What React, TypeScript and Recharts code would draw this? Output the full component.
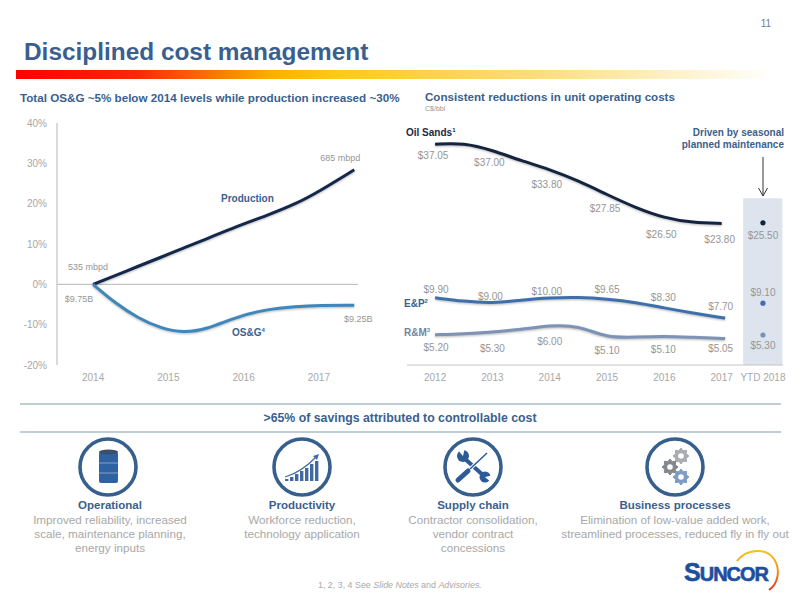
import type { CSSProperties, ReactNode } from "react";
import {
  ComposedChart,
  LabelList,
  Line,
  ReferenceArea,
  ReferenceLine,
  Scatter,
  XAxis,
  YAxis,
} from "recharts";

const FONT = '"Liberation Sans", Arial, sans-serif';
const BLUE = "#3a5f8f";
const GREY = "#a8a8a8";
const LABEL_GREY = "#969696";

// left chart: indexed change since 2014
const changeYears = [2014, 2014.3, 2014.6, 2014.9, 2015.2, 2015.5, 2015.9, 2016.3, 2016.7, 2017, 2017.47];
const production = [0, 2.2, 4.5, 6.7, 9, 11.2, 14.3, 17, 20, 23, 28.4];
const osg = [0, -4.75, -8.4, -10.9, -12, -11.2, -8.1, -6.2, -5.5, -5.2, -5.2];
const changeTicks = [2014, 2015, 2016, 2017];
const percentTicks = [40, 30, 20, 10, 0, -10, -20];

const changeRows = changeYears.map((x, i) => ({ x, production: production[i], osg: osg[i] }));

// right chart: the drawn curves sit slightly apart from their printed values
const unitYears = [2012, 2012.5, 2013, 2013.5, 2014, 2014.5, 2015, 2015.5, 2016, 2016.5, 2017, 2017.06];
const oilSands = [36.8, 37.05, 35.8, 34.05, 32.6, 30.7, 28.4, 26.2, 24.5, 23.7, 23.6, null];
const eAndP = [11.2, 10.6, 10.3, 10.8, 11.2, 11.3, 11, 10.45, 9.5, 8.65, 7.9, 7.8];
const rAndM = [5.05, 5.2, 5.5, 5.9, 6.6, 6.6, 4.5, 4.65, 4.8, 4.6, 4.45, 4.4];
const unitTicks = [2012, 2013, 2014, 2015, 2016, 2017];

const oilLabels = ["$37.05", "$37.00", "$33.80", "$27.85", "$26.50", "$23.80"];
const epLabels = ["$9.90", "$9.00", "$10.00", "$9.65", "$8.30", "$7.70"];
const rmLabels = ["$5.20", "$5.30", "$6.00", "$5.10", "$5.10", "$5.05"];

const YTD_X = 2017.72;
const ytdOil = [{ x: YTD_X, y: 23.7 }];
const ytdEp = [{ x: YTD_X, y: 10.3 }];
const ytdRm = [{ x: YTD_X, y: 5 }];

const unitRows = unitYears.map((x, i) => ({ x, oil: oilSands[i], ep: eAndP[i], rm: rAndM[i] }));

const oilOffsets = [[-2, 11], [-3, 12], [-3, 15], [-2, 14], [-3, 16], [-2, 16]];
const epOffsets = [[1, -8], [-2, -7], [-3, -6], [0, -10], [-1, -11], [-1, -11]];
const rmOffsets = [[1, 13], [0, 16], [0, 16], [0, 12], [-1, 13], [-1, 10]];

function valueText(x: number, y: number, text: string, size = 10) {
  return (
    <text x={x} y={y} textAnchor="middle" dominantBaseline="central" fontSize={size} fill={LABEL_GREY} fontFamily={FONT}>
      {text}
    </text>
  );
}

// labels every whole year, which is every second row of the table
const yearLabel = (texts: string[], offsets: number[][]) => (p: any) => {
  if (p.index % 2 !== 0 || !texts[p.index / 2]) return <g />;
  const [dx, dy] = offsets[p.index / 2];
  return valueText(p.x + dx, p.y + dy, texts[p.index / 2]);
};

// first and last point only
const endLabel = (first: string, last: string, firstAt: number[], lastAt: number[]) => (p: any) => {
  if (p.index === 0) return valueText(p.x + firstAt[0], p.y + firstAt[1], first, 9);
  if (p.index === changeYears.length - 1) return valueText(p.x + lastAt[0], p.y + lastAt[1], last, 9);
  return <g />;
};

const ytdLabel = (text: string, dy: number) => (p: any) =>
  valueText(p.x + (p.width ?? 0) / 2, p.y + (p.height ?? 0) / 2 + dy, text);

function Txt({ x, y, w, align = "left", style, children }: { x: number; y: number; w?: number; align?: CSSProperties["textAlign"]; style?: CSSProperties; children: ReactNode }) {
  return (
    <div style={{ position: "absolute", left: x, top: y, width: w, textAlign: align, whiteSpace: "nowrap", fontFamily: FONT, ...style }}>
      {children}
    </div>
  );
}

const tickStyle = { fontSize: 10, fill: GREY, fontFamily: FONT };

function ChangeChart() {
  return (
    <ComposedChart width={400} height={280} data={changeRows} margin={{ top: 13, right: 42, bottom: 0, left: 17 }}>
      <XAxis
        type="number"
        dataKey="x"
        domain={[2013.52, 2017.52]}
        ticks={changeTicks}
        interval={0}
        axisLine={false}
        tickLine={false}
        tick={tickStyle}
        height={25}
        tickMargin={3}
      />
      <YAxis
        type="number"
        domain={[-20, 40]}
        ticks={percentTicks}
        interval={0}
        width={40}
        tickFormatter={(v) => `${v}%`}
        tick={tickStyle}
        axisLine={{ stroke: "#b5b5b5" }}
        tickLine={false}
        tickSize={0}
        tickMargin={10}
      />
      <ReferenceLine y={0} stroke="#b5b5b5" />
      <Line
        dataKey="production"
        type="basis"
        stroke="#14284b"
        strokeWidth={3}
        dot={false}
        isAnimationActive={false}
        label={endLabel("535 mbpd", "685 mbpd", [-5, -17], [-14, -12])}
      />
      <Line
        dataKey="osg"
        type="basis"
        stroke="#3d87bd"
        strokeWidth={3}
        dot={false}
        isAnimationActive={false}
        label={endLabel("$9.75B", "$9.25B", [-14, 15], [4, 14])}
      />
    </ComposedChart>
  );
}

function UnitCostChart() {
  return (
    <ComposedChart width={400} height={280} data={unitRows} margin={{ top: 15, right: 17, bottom: 0, left: 7 }}>
      <XAxis
        type="number"
        dataKey="x"
        domain={[2011.51, 2018.07]}
        ticks={[...unitTicks, YTD_X]}
        interval={0}
        tickFormatter={(v) => (v === YTD_X ? "YTD 2018" : String(v))}
        axisLine={{ stroke: "#c4c4c4" }}
        tickLine={false}
        tick={tickStyle}
        height={25}
        tickMargin={3}
      />
      <YAxis type="number" domain={[0, 40]} hide />
      <ReferenceArea x1={2017.375} x2={2018.06} y1={0} y2={27.8} fill="#dde4ee" fillOpacity={1} stroke="none" />
      <Line dataKey="oil" type="basis" stroke="#14243f" strokeWidth={3} dot={false} isAnimationActive={false} label={yearLabel(oilLabels, oilOffsets)} />
      <Line dataKey="ep" type="basis" stroke="#3e6fad" strokeWidth={3} dot={false} isAnimationActive={false} label={yearLabel(epLabels, epOffsets)} />
      <Line dataKey="rm" type="basis" stroke="#7d93b5" strokeWidth={3} dot={false} isAnimationActive={false} label={yearLabel(rmLabels, rmOffsets)} />
      <Scatter data={ytdOil} dataKey="y" fill="#14243f" isAnimationActive={false} shape={<Dot />}>
        <LabelList dataKey="y" content={ytdLabel("$25.50", 13)} />
      </Scatter>
      <Scatter data={ytdEp} dataKey="y" fill="#3f6fb0" isAnimationActive={false} shape={<Dot />}>
        <LabelList dataKey="y" content={ytdLabel("$9.10", -11)} />
      </Scatter>
      <Scatter data={ytdRm} dataKey="y" fill="#7c93b8" isAnimationActive={false} shape={<Dot />}>
        <LabelList dataKey="y" content={ytdLabel("$5.30", 10)} />
      </Scatter>
    </ComposedChart>
  );
}

function Dot(p: any) {
  return <circle cx={p.cx} cy={p.cy} r={2.6} fill={p.fill} />;
}

function gearPath(cx: number, cy: number, r: number) {
  const pts: string[] = [];
  for (let i = 0; i < 16; i++) {
    const a = (i * Math.PI) / 8;
    const rad = i % 2 === 0 ? r : r * 0.72;
    pts.push(`${(cx + rad * Math.cos(a)).toFixed(1)},${(cy + rad * Math.sin(a)).toFixed(1)}`);
  }
  return pts.join(" ");
}

function Gear({ cx, cy, r, fill }: { cx: number; cy: number; r: number; fill: string }) {
  return (
    <g>
      <polygon points={gearPath(cx, cy, r)} fill={fill} stroke={fill} strokeWidth={1} strokeLinejoin="round" />
      <circle cx={cx} cy={cy} r={r * 0.35} fill="#fff" />
    </g>
  );
}

function Decor() {
  return (
    <svg width={800} height={600} style={{ position: "absolute", left: 0, top: 0 }}>
      <defs>
        <linearGradient id="rule" x1="0" x2="1" y1="0" y2="0">
          <stop offset="0" stopColor="#ff0000" />
          <stop offset="0.16" stopColor="#f52a05" />
          <stop offset="0.34" stopColor="#ffb000" />
          <stop offset="0.42" stopColor="#ffc81a" />
          <stop offset="0.68" stopColor="#ffdc78" />
          <stop offset="1" stopColor="#ffffff" />
        </linearGradient>
        <linearGradient id="arc" x1="0" x2="0" y1="0" y2="1">
          <stop offset="0" stopColor="#f7c21b" />
          <stop offset="0.55" stopColor="#f08a1d" />
          <stop offset="1" stopColor="#d8341f" />
        </linearGradient>
      </defs>
      <rect x={16} y={70} width={757} height={9} fill="url(#rule)" />

      <line x1={763} y1={157} x2={763} y2={196} stroke="#333" strokeWidth={1} />
      <polyline points="758.5,188 763,196 767.5,188" fill="none" stroke="#333" strokeWidth={1} />

      <line x1={20} y1={404} x2={781} y2={404} stroke="#7d9ea9" strokeWidth={1.2} />
      <line x1={20} y1={432} x2={781} y2={432} stroke="#7d9ea9" strokeWidth={1.2} />

      {[108, 302, 473, 675].map((cx) => (
        <circle key={cx} cx={cx} cy={467} r={28} fill="#fff" stroke="#375f8e" strokeWidth={3.6} />
      ))}

      {/* barrel */}
      <rect x={99} y={452} width={19} height={31} rx={2} fill="#2f62a3" />
      <ellipse cx={108.5} cy={452} rx={9.5} ry={2.5} fill="#3c4f6b" />
      <line x1={99} y1={463} x2={118} y2={463} stroke="#9db4d2" strokeWidth={0.8} />
      <line x1={99} y1={473} x2={118} y2={473} stroke="#9db4d2" strokeWidth={0.8} />

      {/* growth bars */}
      {[[286, 2], [291, 4], [296, 7], [301, 10], [306, 13], [311, 17], [316, 20]].map(([x, h]) => (
        <rect key={x} x={x - 1} y={481 - h} width={3.4} height={h} fill="#3f6aa3" />
      ))}
      <path d="M285 477 Q302 472 317 456" fill="none" stroke="#3f6aa3" strokeWidth={1.2} />
      <polygon points="319,454 313,456 317,460" fill="#3f6aa3" />

      {/* wrench */}
      <line x1={464} y1={458} x2={484} y2={476} stroke="#2c5b97" strokeWidth={4} />
      <circle cx={463} cy={456} r={6} fill="#2c5b97" />
      <polygon points="463,456 456,448 465,447" fill="#fff" />
      <circle cx={485} cy={477} r={5.5} fill="#2c5b97" />
      <polygon points="485,477 493,484 494,475" fill="#fff" />
      {/* screwdriver */}
      <line x1={470} y1={469} x2={487} y2={453} stroke="#fff" strokeWidth={3.4} />
      <line x1={470} y1={469} x2={487} y2={453} stroke="#2c5b97" strokeWidth={1.6} />
      <line x1={458} y1={480} x2={468} y2={471} stroke="#2c5b97" strokeWidth={5} strokeLinecap="round" />

      {/* gears */}
      <Gear cx={681} cy={456} r={8} fill="#a9acb0" />
      <Gear cx={670} cy={467} r={8} fill="#84888e" />
      <Gear cx={681} cy={477} r={8} fill="#7f9cc4" />

      {/* logo arc */}
      <path d="M737 561 C746 549 766 547 774 559 C781 570 778 584 769 590" fill="none" stroke="url(#arc)" strokeWidth={2} />
    </svg>
  );
}

const captions = [
  { cx: 110, head: "Operational", body: ["Improved reliability, increased", "scale, maintenance planning,", "energy inputs"] },
  { cx: 302, head: "Productivity", body: ["Workforce reduction,", "technology application"] },
  { cx: 473, head: "Supply chain", body: ["Contractor consolidation,", "vendor contract", "concessions"] },
  { cx: 675, head: "Business processes", body: ["Elimination of low-value added work,", "streamlined processes, reduced fly in fly out"] },
];

const sup: CSSProperties = { fontSize: 6, verticalAlign: "super", lineHeight: 0 };
const seriesName: CSSProperties = { fontSize: 10, fontWeight: 700, color: BLUE };
const logoInk: CSSProperties = { color: "#1c4f9c", fontWeight: 700, WebkitTextStroke: "0.6px #1c4f9c" };

export default function App() {
  return (
    <div style={{ position: "relative", width: 800, height: 600, background: "#fff", overflow: "hidden" }}>
      <style>{`body{margin:0}.recharts-line-curve{filter:drop-shadow(0.5px 1.5px 1px rgba(0,0,0,.28))}`}</style>
      <Decor />

      <Txt x={741} y={18} w={50} align="center" style={{ fontSize: 10, color: "#6d7f9a" }}>11</Txt>
      <Txt x={24} y={38} style={{ fontSize: 24.4, fontWeight: 700, color: BLUE }}>Disciplined cost management</Txt>

      <Txt x={20} y={91} style={{ fontSize: 11.65, fontWeight: 700, color: BLUE }}>Total OS&amp;G ~5% below 2014 levels while production increased ~30%</Txt>
      <Txt x={425} y={90} style={{ fontSize: 11.6, fontWeight: 700, color: BLUE }}>Consistent reductions in unit operating costs</Txt>
      <Txt x={425} y={105} style={{ fontSize: 7, color: LABEL_GREY }}>C$/bbl</Txt>

      <div style={{ position: "absolute", left: 0, top: 110 }}>
        <ChangeChart />
      </div>
      <div style={{ position: "absolute", left: 400, top: 110 }}>
        <UnitCostChart />
      </div>

      <Txt x={221} y={193} style={seriesName}>Production</Txt>
      <Txt x={232} y={327} style={seriesName}>OS&amp;G<span style={sup}>4</span></Txt>
      <Txt x={406} y={127} style={{ ...seriesName, color: "#1a2a44" }}>Oil Sands<span style={sup}>1</span></Txt>
      <Txt x={404} y={298} style={seriesName}>E&amp;P<span style={sup}>2</span></Txt>
      <Txt x={404} y={327} style={{ ...seriesName, color: "#71869f" }}>R&amp;M<span style={sup}>3</span></Txt>
      <Txt x={660} y={127} w={124} align="right" style={{ ...seriesName, lineHeight: "12px" }}>
        Driven by seasonal<br />planned maintenance
      </Txt>

      <Txt x={0} y={411} w={800} align="center" style={{ fontSize: 12.3, fontWeight: 700, color: BLUE }}>
        &gt;65% of savings attributed to controllable cost
      </Txt>

      {captions.map((c) => (
        <div key={c.head}>
          <Txt x={c.cx - 120} y={499} w={240} align="center" style={{ fontSize: 11.5, fontWeight: 700, color: BLUE }}>{c.head}</Txt>
          <Txt x={c.cx - 120} y={513} w={240} align="center" style={{ fontSize: 11.7, color: GREY, lineHeight: "14px" }}>
            {c.body.map((line) => (
              <div key={line}>{line}</div>
            ))}
          </Txt>
        </div>
      ))}

      <Txt x={318} y={580} style={{ fontSize: 8.9, color: GREY }}>
        1, 2, 3, 4 See <i>Slide Notes</i> and <i>Advisories.</i>
      </Txt>
      <Txt x={684} y={560} style={{ ...logoInk, fontSize: 20, letterSpacing: -1, lineHeight: "24px" }}>
        <span style={{ fontSize: 25 }}>S</span>UNCOR
      </Txt>
    </div>
  );
}
